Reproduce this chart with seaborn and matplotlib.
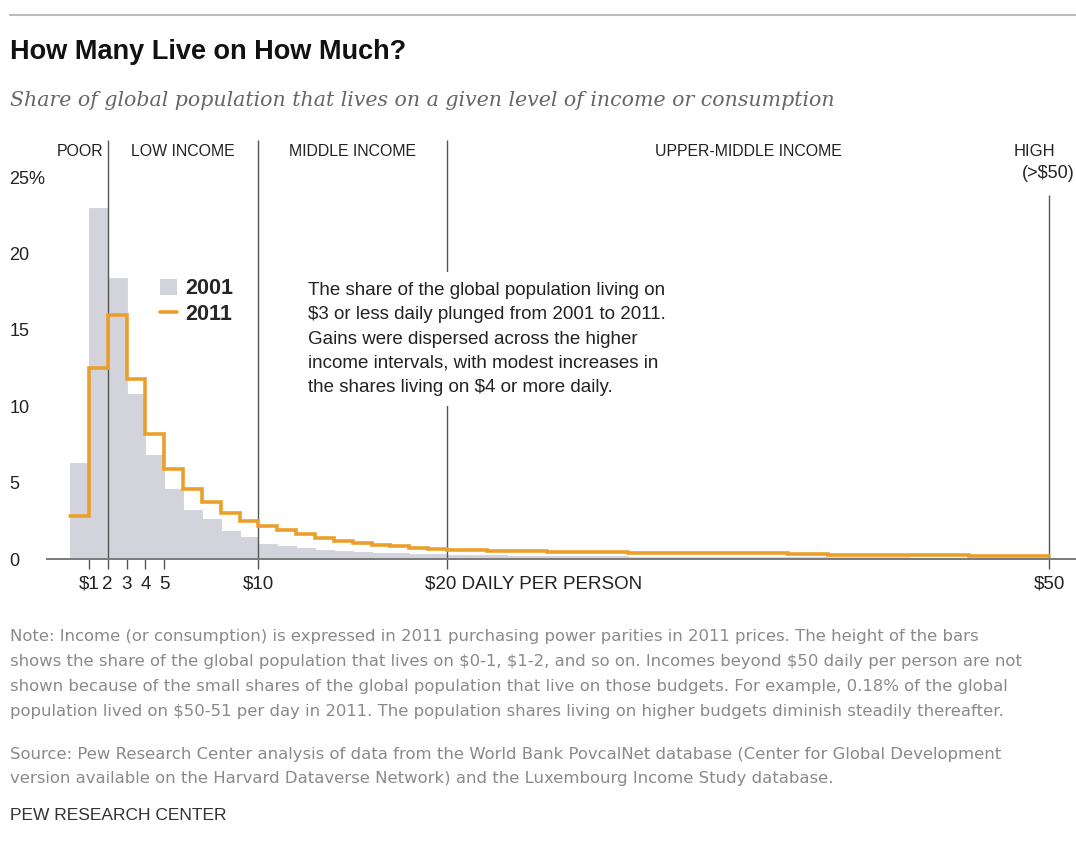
import numpy as np
import pandas as pd
import matplotlib
matplotlib.use("Agg")
import matplotlib.pyplot as plt
import matplotlib.transforms as mtransforms
from matplotlib.lines import Line2D
from matplotlib.patches import Patch
import seaborn as sns

# Income intervals: $0-1, $1-2, ... $49-50 per person per day
income_edges = list(range(0, 51))

# Share of global population (%) in each $1 interval
share_2001 = [6.3, 23.0, 18.4, 10.8, 6.8, 4.6, 3.2, 2.6, 1.8, 1.45,
              1.0, 0.85, 0.7, 0.6, 0.52, 0.46, 0.41, 0.37, 0.33, 0.3,
              0.28, 0.26, 0.24, 0.22, 0.21, 0.2, 0.19, 0.18, 0.17, 0.16,
              0.15, 0.15, 0.14, 0.14, 0.13, 0.13, 0.12, 0.12, 0.11, 0.11,
              0.1, 0.1, 0.1, 0.09, 0.09, 0.09, 0.08, 0.08, 0.08, 0.08]
share_2011 = [2.8, 12.5, 16.0, 11.8, 8.2, 5.9, 4.6, 3.7, 3.0, 2.5,
              2.15, 1.9, 1.65, 1.4, 1.2, 1.05, 0.92, 0.82, 0.72, 0.63,
              0.62, 0.56, 0.55, 0.53, 0.5, 0.46, 0.45, 0.44, 0.43, 0.41,
              0.4, 0.4, 0.39, 0.38, 0.38, 0.37, 0.36, 0.35, 0.34, 0.28,
              0.27, 0.26, 0.26, 0.25, 0.24, 0.23, 0.22, 0.21, 0.2, 0.19]

x_ticks = [1, 2, 3, 4, 5, 10, 20, 50]
x_tick_labels = ["$1", "2", "3", "4", "5", "$10", "$20 DAILY PER PERSON", "$50"]
y_ticks = [0, 5, 10, 15, 20, 25]
y_tick_labels = ["0", "5", "10", "15", "20", "25%"]

class_boundaries = [2, 10, 20, 50]
class_names = ["LOW INCOME", "MIDDLE INCOME", "UPPER-MIDDLE INCOME"]

GRAY = "#d2d3db"
ORANGE = "#eb9f2b"
DARK = "#222222"
NOTE_GRAY = "#8a8a8a"
SANS = ["Liberation Sans", "DejaVu Sans"]

sns.set_theme(style="white")
plt.rcParams["font.family"] = SANS

W, H = 1076, 843
fig = plt.figure(figsize=(W / 100, H / 100), dpi=100)
fig.patch.set_facecolor("white")


def fx(px):
    return px / W


def fy(py):
    return 1 - py / H


ax = fig.add_axes([fx(47), fy(559), fx(1076) - fx(47), fy(140) - fy(559)])

# Axis position of a dollar amount: the span above $20 is drawn a little wider
STRETCH = 1.065


def pos(x):
    x = np.asarray(x, dtype=float)
    return np.where(x <= 20, x, 20 + (x - 20) * STRETCH)


edge_pos = pos(income_edges)
df = pd.DataFrame({
    "pos": (edge_pos[:-1] + edge_pos[1:]) / 2,
    "y2001": share_2001,
    "y2011": share_2011,
})
bin_list = [float(v) for v in edge_pos]

sns.histplot(data=df, x="pos", weights="y2001", bins=bin_list,
             element="bars", fill=True, color=GRAY, alpha=1,
             edgecolor=GRAY, linewidth=0.6, ax=ax, zorder=1)
sns.histplot(data=df, x="pos", weights="y2011", bins=bin_list,
             element="step", fill=False, color=ORANGE, linewidth=2.6,
             ax=ax, zorder=4, solid_joinstyle="miter")

ymax = (559 - 140) / 15.28
ax.set_ylim(0, ymax)
ax.set_xlim(-1.22, -1.22 + 1029 / 18.85)
ax.set_xlabel("")
ax.set_ylabel("")

# Income-class boundaries
for b in class_boundaries:
    top = 23.8 if b == 50 else ymax
    ax.vlines(float(pos(b)), 0, top, color="#555555", linewidth=1.0, zorder=3)

for s in ["top", "right", "left"]:
    ax.spines[s].set_visible(False)
ax.spines["bottom"].set_color("#7a7a7a")
ax.spines["bottom"].set_linewidth(1.4)
ax.spines["bottom"].set_zorder(5)

ax.set_xticks([float(v) for v in pos(x_ticks)], x_tick_labels)
ax.tick_params(axis="x", length=7, width=1, color="#555555", pad=5,
               labelsize=13.5, labelcolor=DARK, bottom=True)
for lbl in ax.get_xticklabels():
    if lbl.get_text().startswith("$20"):
        lbl.set_horizontalalignment("left")
        lbl.set_transform(lbl.get_transform() +
                          mtransforms.ScaledTranslation(-0.22, 0, fig.dpi_scale_trans))

ax.set_yticks(y_ticks, y_tick_labels)
ax.tick_params(axis="y", length=0, pad=27, labelsize=13, labelcolor=DARK)
for lbl in ax.get_yticklabels():
    lbl.set_horizontalalignment("left")
ax.grid(False)

# Income class labels across the top
label_y = (559 - 152) / 15.28
ax.annotate("POOR", xy=(float(pos(2)), label_y), xytext=(-4, 0),
            textcoords="offset pixels", ha="right", va="center",
            fontsize=11.4, color=DARK)
for lo, hi, name in zip(class_boundaries[:-1], class_boundaries[1:], class_names):
    mid = (float(pos(lo)) + float(pos(hi))) / 2
    ax.text(mid, label_y, name, ha="center", va="center", fontsize=11.4,
            color=DARK)
ax.annotate("HIGH", xy=(float(pos(50)), label_y), xytext=(-36, 0),
            textcoords="offset pixels", ha="left", va="center",
            fontsize=12, color=DARK, annotation_clip=False)
ax.annotate("(>$50)", xy=(float(pos(50)), (559 - 173) / 15.28), xytext=(-27, 0),
            textcoords="offset pixels", ha="left", va="center", fontsize=13,
            color=DARK, annotation_clip=False)

# Legend
handles = [Patch(facecolor=GRAY, edgecolor="none"),
           Line2D([0], [0], color=ORANGE, linewidth=2.6)]
ax.legend(handles, ["2001", "2011"], loc="upper left",
          bbox_to_anchor=(fx(141), fy(259)), bbox_transform=fig.transFigure,
          frameon=False, handlelength=0.75, handleheight=0.75,
          handletextpad=0.4, labelspacing=0.22,
          prop={"weight": "bold", "size": 15.5})

# Annotation
ax.text((308 - 70) / 18.85, (559 - 282) / 15.28,
        "The share of the global population living on\n"
        "$3 or less daily plunged from 2001 to 2011.\n"
        "Gains were dispersed across the higher\n"
        "income intervals, with modest increases in\n"
        "the shares living on $4 or more daily.",
        ha="left", va="top", fontsize=13.5, color=DARK, linespacing=1.56,
        zorder=6, bbox=dict(boxstyle="square,pad=0.55", facecolor="white",
                            edgecolor="none"))

# Header
fig.add_artist(Line2D([fx(10), 1], [fy(15), fy(15)], color="#bbbbbb", linewidth=1.5))
fig.text(fx(10), fy(52), "How Many Live on How Much?", ha="left", va="center",
         fontsize=19.5, fontweight="bold", color="#111111")
fig.text(fx(10), fy(100),
         "Share of global population that lives on a given level of income or consumption",
         ha="left", va="center", fontsize=14.8, style="italic", color="#666666",
         family=["DejaVu Serif"])

# Notes
NOTE_FONT = ["DejaVu Sans"]
note_lines = [
    "Note: Income (or consumption) is expressed in 2011 purchasing power parities in 2011 prices. The height of the bars",
    "shows the share of the global population that lives on $0-1, $1-2, and so on. Incomes beyond $50 daily per person are not",
    "shown because of the small shares of the global population that live on those budgets. For example, 0.18% of the global",
    "population lived on $50-51 per day in 2011. The population shares living on higher budgets diminish steadily thereafter.",
]
for i, line in enumerate(note_lines):
    fig.text(fx(10), fy(637 + i * 24.7), line, ha="left", va="center",
             fontsize=11.85, color=NOTE_GRAY, family=NOTE_FONT)
source_lines = [
    "Source: Pew Research Center analysis of data from the World Bank PovcalNet database (Center for Global Development",
    "version available on the Harvard Dataverse Network) and the Luxembourg Income Study database.",
]
for i, line in enumerate(source_lines):
    fig.text(fx(10), fy(754 + i * 25), line, ha="left", va="center",
             fontsize=11.85, color=NOTE_GRAY, family=NOTE_FONT)
fig.text(fx(10), fy(816), "PEW RESEARCH CENTER", ha="left", va="center",
         fontsize=12.5, color="#333333")

fig.savefig("out.png", dpi=100, facecolor="white")
